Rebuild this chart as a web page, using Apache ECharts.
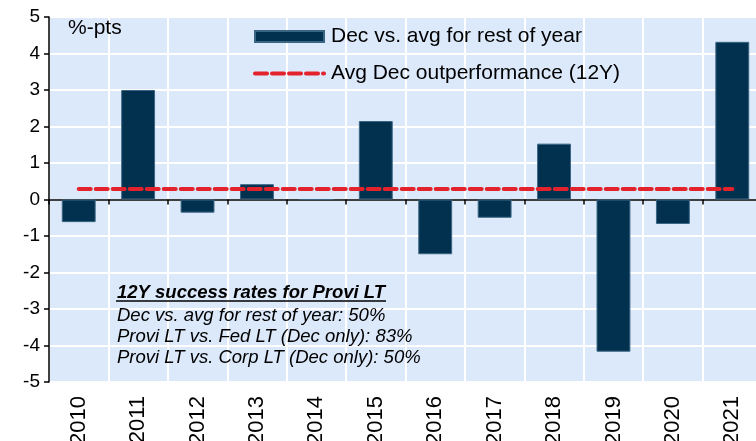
<!DOCTYPE html>
<html>
<head>
<meta charset="utf-8">
<script src="https://cdn.jsdelivr.net/npm/echarts@6/dist/echarts.min.js"></script>
<style>
  html, body { margin: 0; padding: 0; background: #fff; }
  #main { width: 756px; height: 441px; }
</style>
</head>
<body>
<div id="main"></div>
<script>
// data
var years = ['2010', '2011', '2012', '2013', '2014', '2015', '2016', '2017', '2018', '2019', '2020', '2021'];
var decVsAvg = [-0.62, 3.0, -0.36, 0.42, 0, 2.15, -1.5, -0.5, 1.53, -4.17, -0.67, 4.32];
var avgOutperf = [0.29, 0.29, 0.29, 0.29, 0.29, 0.29, 0.29, 0.29, 0.29, 0.29, 0.29, 0.29];
var noteLines = [
  'Dec vs. avg for rest of year: 50%',
  'Provi LT vs. Fed LT (Dec only): 83%',
  'Provi LT vs. Corp LT (Dec only): 50%'
];

var font = 'Arial, "Liberation Sans", sans-serif';
var myChart = echarts.init(document.getElementById('main'));

var option = {
  animation: false,
  textStyle: { fontFamily: font },
  grid: {
    left: 49,
    top: 17,
    width: 713,
    height: 365,
    show: true,
    backgroundColor: '#dce9fb',
    borderWidth: 0,
    outerBoundsMode: 'none',
    containLabel: false
  },
  legend: {
    orient: 'vertical',
    left: 253,
    top: 26,
    padding: 0,
    itemWidth: 69,
    itemHeight: 11,
    itemGap: 16,
    textStyle: { fontSize: 21, color: '#000', fontFamily: font, padding: [0, 0, 0, 2] },
    data: [
      { name: 'Dec vs. avg for rest of year', icon: 'rect' },
      {
        name: 'Avg Dec outperformance (12Y)',
        itemStyle: { opacity: 0 },
        lineStyle: { width: 4, type: [12, 5], cap: 'round', color: '#e3222b' }
      }
    ]
  },
  xAxis: [
    {
      type: 'category',
      data: years,
      position: 'bottom',
      axisLine: { onZero: true, lineStyle: { color: '#000', width: 1.5 } },
      axisTick: { show: true, length: 5, lineStyle: { color: '#000', width: 1.5 } },
      axisLabel: { show: false },
      splitLine: { show: true, interval: 0, lineStyle: { color: '#fff', width: 2 } }
    },
    {
      type: 'category',
      data: years,
      position: 'bottom',
      axisLine: { show: false, onZero: false },
      axisTick: { show: false },
      splitLine: { show: false },
      axisLabel: {
        interval: 0,
        rotate: 90,
        margin: 14,
        fontSize: 22,
        color: '#000',
        fontFamily: font
      }
    }
  ],
  yAxis: {
    type: 'value',
    min: -5,
    max: 5,
    interval: 1,
    axisLine: { show: true, lineStyle: { color: '#000', width: 1.5 } },
    axisTick: { show: true, length: 5, lineStyle: { color: '#000', width: 1.5 } },
    axisLabel: { fontSize: 19, color: '#000', margin: 9, fontFamily: font },
    splitLine: { show: true, lineStyle: { color: '#fff', width: 2 } }
  },
  series: [
    {
      name: 'Dec vs. avg for rest of year',
      type: 'bar',
      data: decVsAvg,
      barWidth: '57%',
      itemStyle: { color: '#02304f', borderColor: '#3a6683', borderWidth: 1 },
      z: 2
    },
    {
      name: 'Avg Dec outperformance (12Y)',
      type: 'line',
      data: avgOutperf,
      symbol: 'none',
      lineStyle: { color: '#e3222b', width: 4, type: [12, 5], cap: 'round' },
      itemStyle: { color: '#e3222b' },
      z: 3
    }
  ],
  graphic: [
    {
      type: 'text', left: 68, top: 18, z: 100,
      style: { text: '%-pts', fontSize: 21, fill: '#000', fontFamily: font }
    },
    {
      type: 'text', left: 117, top: 283, z: 100,
      style: { text: '12Y success rates for Provi LT', fontSize: 18.5, fontWeight: 'bold', fontStyle: 'italic', fill: '#000', fontFamily: font }
    },
    {
      type: 'line', z: 100, shape: { x1: 116, y1: 301, x2: 386, y2: 301 },
      style: { stroke: '#000', lineWidth: 1.5 }
    },
    {
      type: 'text', left: 117, top: 306, z: 100,
      style: { text: noteLines[0], fontSize: 18.5, fontStyle: 'italic', fill: '#000', fontFamily: font }
    },
    {
      type: 'text', left: 117, top: 327, z: 100,
      style: { text: noteLines[1], fontSize: 18.5, fontStyle: 'italic', fill: '#000', fontFamily: font }
    },
    {
      type: 'text', left: 117, top: 348, z: 100,
      style: { text: noteLines[2], fontSize: 18.5, fontStyle: 'italic', fill: '#000', fontFamily: font }
    }
  ]
};

myChart.setOption(option);
</script>
</body>
</html>
